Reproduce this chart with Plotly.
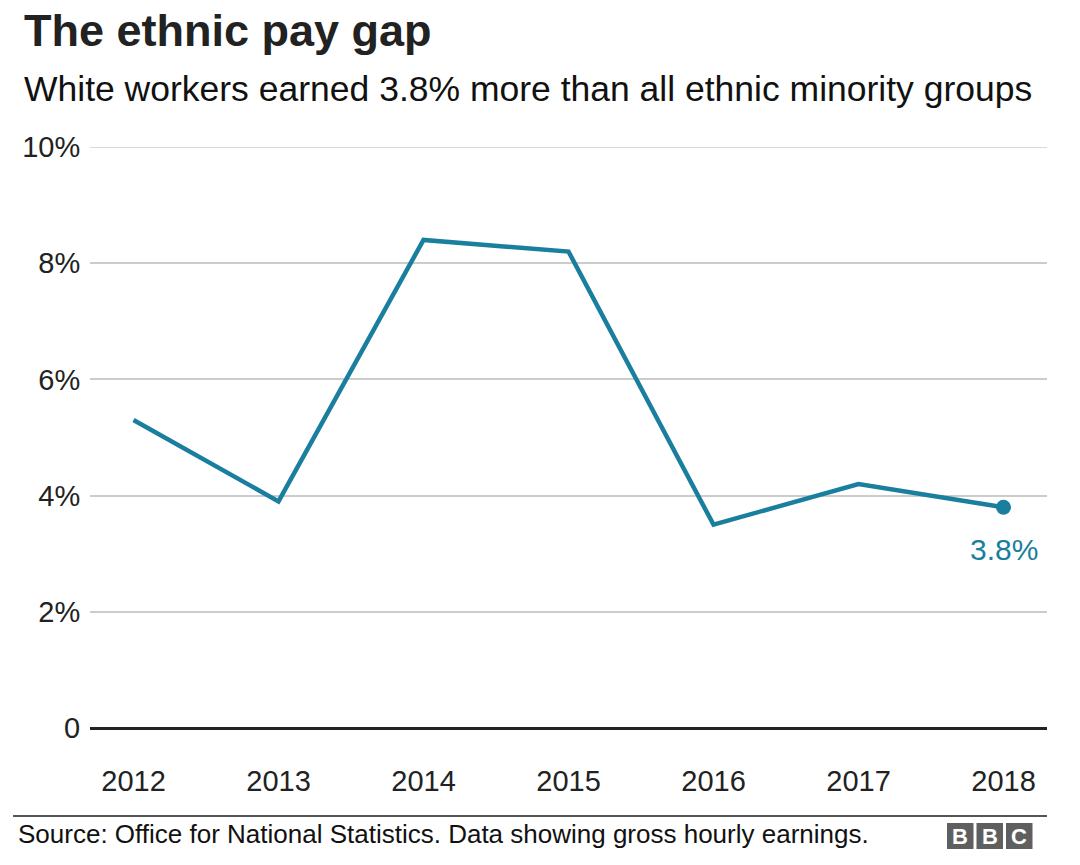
import plotly.graph_objects as go

years = [2012, 2013, 2014, 2015, 2016, 2017, 2018]
pay_gap = [5.3, 3.9, 8.4, 8.2, 3.5, 4.2, 3.8]
y_ticks = [0, 2, 4, 6, 8, 10]
y_tick_labels = ["0", "2%", "4%", "6%", "8%", "10%"]

TITLE = "The ethnic pay gap"
SUBTITLE = "White workers earned 3.8% more than all ethnic minority groups"
SOURCE = "Source: Office for National Statistics. Data showing gross hourly earnings."

W, H = 1080, 865
L, R, T, B = 90, 33, 147, 137
PW, PH = W - L - R, H - T - B
FONT = "Liberation Sans, Arial, Helvetica, sans-serif"
LINE_COLOR = "#1a7f9e"


def px(x):
    return (x - L) / PW


def py(y):
    return (H - B - y) / PH


fig = go.Figure()
fig.add_trace(go.Scatter(x=years, y=pay_gap, mode="lines",
                         line=dict(color=LINE_COLOR, width=4.5),
                         hoverinfo="skip", showlegend=False))
fig.add_trace(go.Scatter(x=years[-1:], y=pay_gap[-1:], mode="markers",
                         marker=dict(color=LINE_COLOR, size=15),
                         hoverinfo="skip", showlegend=False))
fig.add_annotation(x=years[-1], y=pay_gap[-1], text=f"{pay_gap[-1]}%",
                   showarrow=False, yshift=-42, xanchor="center", yanchor="middle",
                   font=dict(family=FONT, size=30, color=LINE_COLOR))

# top gridline (at the range edge)
fig.add_shape(type="line", xref="paper", yref="y", x0=0, x1=1, y0=y_ticks[-1], y1=y_ticks[-1],
              line=dict(color="#cccccc", width=1.5), layer="below")

annots = [
    dict(text=f"<b>{TITLE}</b>", x=px(22), y=py(31), size=45, color="#222222"),
    dict(text=SUBTITLE, x=px(22), y=py(89), size=35.5, color="#111111"),
    dict(text=SOURCE, x=px(16), y=py(834), size=26, color="#111111"),
]
for a in annots:
    fig.add_annotation(text=a["text"], x=a["x"], y=a["y"], xref="paper", yref="paper",
                       showarrow=False, xanchor="left", yanchor="middle",
                       font=dict(family=FONT, size=a["size"], color=a["color"]))

# footer rule
fig.add_shape(type="line", xref="paper", yref="paper", x0=px(13), x1=px(1047),
              y0=py(816), y1=py(816), line=dict(color="#555555", width=2))

# BBC logo
for i, letter in enumerate(["B", "B", "C"]):
    x0 = 947 + i * 29.5
    fig.add_shape(type="rect", xref="paper", yref="paper", x0=px(x0), x1=px(x0 + 26.5),
                  y0=py(849), y1=py(823), fillcolor="#5f5f5f", line=dict(width=0))
    fig.add_annotation(text=f"<b>{letter}</b>", x=px(x0 + 13.25), y=py(836.5),
                       xref="paper", yref="paper", showarrow=False,
                       xanchor="center", yanchor="middle",
                       font=dict(family=FONT, size=22, color="white"))

fig.update_layout(
    width=W, height=H,
    margin=dict(l=L, r=R, t=T, b=B),
    paper_bgcolor="white", plot_bgcolor="white",
    font=dict(family=FONT, color="#222222"),
    xaxis=dict(range=[2011.7, 2018.3], tickmode="array", tickvals=years,
               ticktext=[str(y) for y in years], showgrid=False, zeroline=False,
               showline=False, ticks="outside", ticklen=27, tickcolor="rgba(0,0,0,0)",
               tickfont=dict(size=29, color="#222222")),
    yaxis=dict(range=[0, 10], tickmode="array", tickvals=y_ticks, ticktext=y_tick_labels,
               showgrid=True, gridcolor="#cccccc", gridwidth=1.5, zeroline=True,
               zerolinecolor="#222222", zerolinewidth=3, showline=False,
               ticks="outside", ticklen=3, tickcolor="rgba(0,0,0,0)",
               tickfont=dict(size=29, color="#222222")),
)

fig.write_html("out.html")
